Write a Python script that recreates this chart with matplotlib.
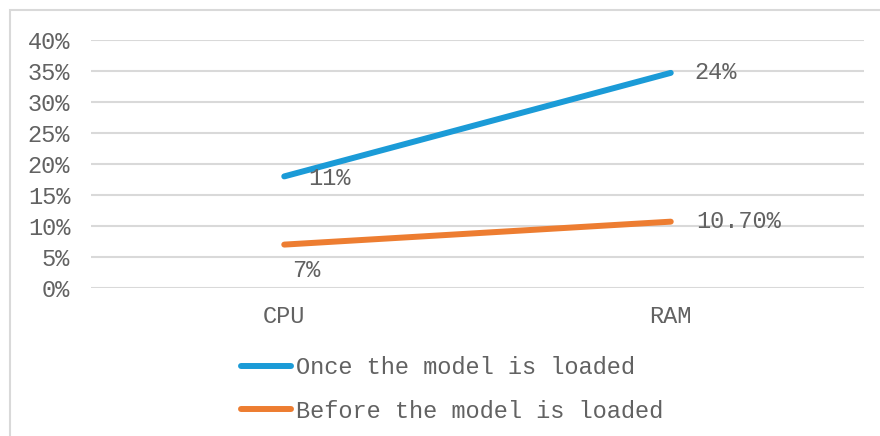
import matplotlib.pyplot as plt
from matplotlib.patches import Rectangle
from matplotlib.ticker import PercentFormatter

# Resource usage, stacked: "once loaded" sits on top of "before loaded"
categories = ['CPU', 'RAM']
before_loaded = [0.07, 0.107]
once_loaded = [0.11, 0.24]
before_labels = ['7%', '10.70%']
once_labels = ['11%', '24%']
yticks = [0, 0.05, 0.10, 0.15, 0.20, 0.25, 0.30, 0.35, 0.40]

blue = '#1B9BD7'
orange = '#ED7D31'
text_gray = '#626262'
grid_gray = '#D9D9D9'

plt.rcParams['font.family'] = ['Liberation Mono', 'DejaVu Sans Mono']
plt.rcParams['font.size'] = 17

fig = plt.figure(figsize=(8.8, 4.36), dpi=100)
ax = fig.add_axes([91 / 880, 1 - 288 / 436, (864 - 91) / 880, (288 - 40) / 436])

x = range(len(categories))
stacked = [b + o for b, o in zip(before_loaded, once_loaded)]

ax.plot(x, stacked, color=blue, lw=4.3, solid_capstyle='round',
        label='Once the model is loaded', zorder=3)
ax.plot(x, before_loaded, color=orange, lw=4.3, solid_capstyle='round',
        label='Before the model is loaded', zorder=3)

# data labels
ax.annotate(once_labels[0], (0, stacked[0]), xytext=(24, -2), textcoords='offset pixels',
            ha='left', va='center', color=text_gray)
ax.annotate(once_labels[1], (1, stacked[1]), xytext=(24, 0), textcoords='offset pixels',
            ha='left', va='center', color=text_gray)
ax.annotate(before_labels[0], (0, before_loaded[0]), xytext=(22, -26), textcoords='offset pixels',
            ha='center', va='center', color=text_gray)
ax.annotate(before_labels[1], (1, before_loaded[1]), xytext=(25, 0), textcoords='offset pixels',
            ha='left', va='center', color=text_gray)

ax.set_xlim(-0.5, 1.5)
ax.set_ylim(0, 0.4)
ax.set_xticks(list(x))
ax.set_xticklabels(categories)
ax.set_yticks(yticks)
ax.yaxis.set_major_formatter(PercentFormatter(1.0, decimals=0))
ax.tick_params(axis='both', length=0, colors=text_gray)
ax.tick_params(axis='y', pad=15)
ax.tick_params(axis='x', pad=12)
ax.grid(axis='y', color=grid_gray, lw=1.5)
ax.set_axisbelow(True)
for s in ax.spines.values():
    s.set_visible(False)

leg = fig.legend(loc='upper left', bbox_to_anchor=(232 / 880, 1 - 347 / 436),
                 frameon=False, handlelength=2.1, handletextpad=0.2,
                 labelspacing=0.85, borderaxespad=0)
for t in leg.get_texts():
    t.set_color(text_gray)

# chart area border (only top and left edges fall inside the image)
fig.patches.append(Rectangle((10 / 880, -0.1), 1.0, 1 - 10 / 436 + 0.1,
                             transform=fig.transFigure, fill=False,
                             edgecolor=grid_gray, lw=1.5))

fig.savefig('out.png', dpi=100)
